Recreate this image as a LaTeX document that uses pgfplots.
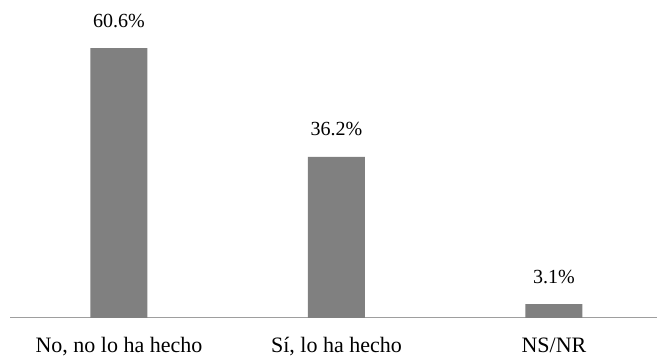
\documentclass[border=0pt]{standalone}
\usepackage{pgfplots}
\pgfplotsset{compat=1.18}
\usepackage{fontspec}
\setmainfont{Liberation Serif}
\begin{document}
\begin{tikzpicture}
\begin{axis}[
  scale only axis,
  width=647pt, height=318pt,
  xmin=-0.501, xmax=2.474,
  ymin=0, ymax=71.4,
  axis x line=bottom,
  axis y line=none,
  axis line style={draw=black!38, line width=1pt, -},
  xtick={0,1,2},
  xticklabels={{No, no lo ha hecho},{Sí, lo ha hecho},{NS/NR}},
  major tick length=0pt,
  xticklabel style={font=\fontsize{22}{24}\selectfont, anchor=base, yshift=-35pt},
  ybar, bar width=57pt,
  point meta=explicit symbolic,
  nodes near coords={\pgfplotspointmeta\%},
  nodes near coords style={font=\fontsize{20}{22}\selectfont, anchor=base, yshift=21pt, text=black},
  clip=false,
]
\addplot[fill=black!50, draw=none] coordinates {(0,60.6)[60.6] (1,36.2)[36.2] (2,3.1)[3.1]};
\end{axis}
\pgfresetboundingbox
\path ([xshift=-10pt,yshift=-42pt]current axis.south west) rectangle (current axis.north east);
\end{tikzpicture}
\end{document}
